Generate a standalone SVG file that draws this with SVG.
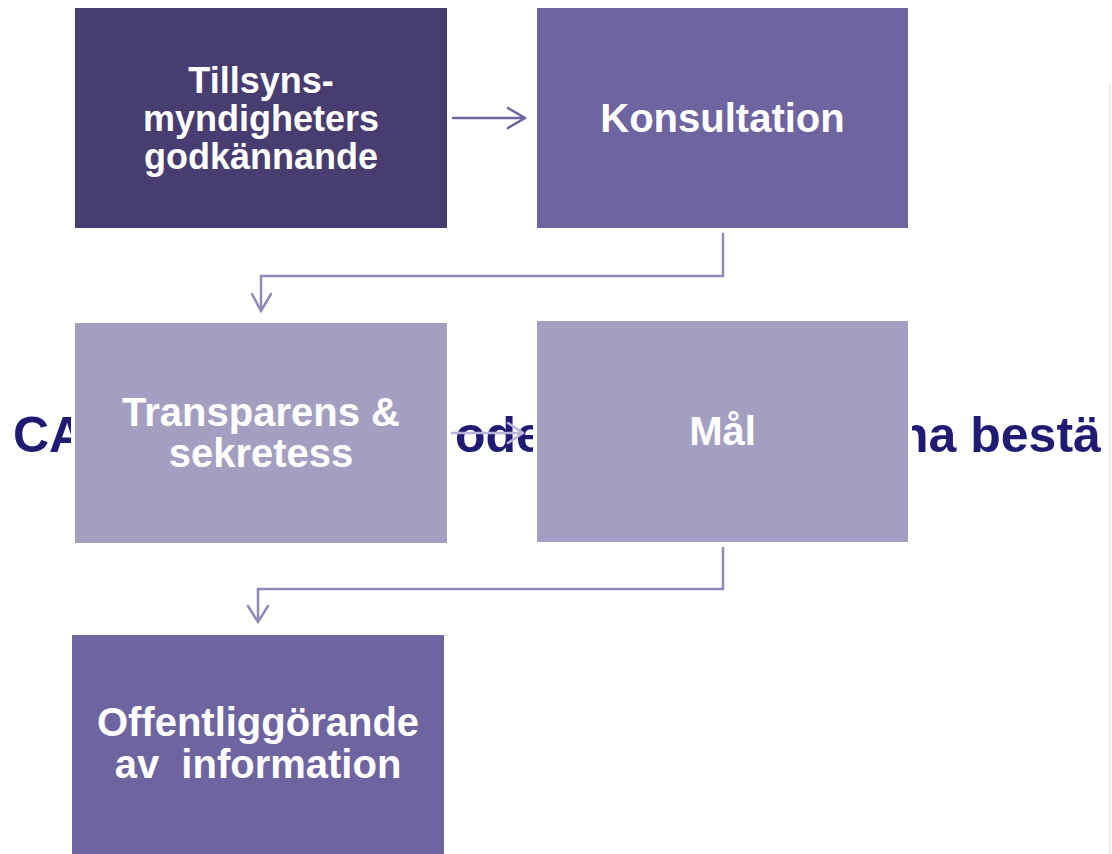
<svg xmlns="http://www.w3.org/2000/svg" width="1112" height="854" viewBox="0 0 1112 854">
<defs>
<style>
.box{stroke:#fff;stroke-width:8;paint-order:stroke}
.lbl{font-family:"Liberation Sans",Arial,sans-serif;font-weight:bold;fill:#fff;text-anchor:middle}
.title{font-family:"Liberation Sans",Arial,sans-serif;font-weight:bold;font-size:50px;fill:#1F1B72}
.conn{fill:none;stroke-width:2.5;stroke-linecap:round;stroke-linejoin:miter}
</style>
</defs>
<rect width="1112" height="854" fill="#fff"/>
<line x1="1110" y1="84" x2="1110" y2="854" stroke="#EAEAEA" stroke-width="2"/>
<g id="title">
<text class="title" x="13" y="452">CA</text>
<text class="title" x="455" y="452">ode</text>
<text class="title" x="898" y="452">na bestä</text>
</g>
<g id="node-tillsyn">
<rect class="box" x="75" y="8" width="372" height="220" fill="#483D70"/>
<text class="lbl" font-size="36" x="261" y="93">Tillsyns-</text>
<text class="lbl" font-size="36" x="261" y="131">myndigheters</text>
<text class="lbl" font-size="36" x="261" y="169">godkännande</text>
</g>
<g id="node-konsultation">
<rect class="box" x="537" y="8" width="371" height="220" fill="#6E64A0"/>
<text class="lbl" font-size="40" x="722.5" y="132">Konsultation</text>
</g>
<g id="node-transparens">
<rect class="box" x="75" y="323" width="372" height="220" fill="#A49FC0"/>
<text class="lbl" font-size="40" x="261" y="426">Transparens &amp;</text>
<text class="lbl" font-size="40" x="261" y="467">sekretess</text>
</g>
<g id="node-mal">
<rect class="box" x="537" y="321" width="371" height="221" fill="#A49FC0"/>
<text class="lbl" font-size="40" x="722.5" y="445">Mål</text>
</g>
<g id="node-offentlig">
<rect class="box" x="72" y="635" width="372" height="225" fill="#6E64A0"/>
<text class="lbl" font-size="40" x="258" y="736">Offentliggörande</text>
<text class="lbl" font-size="40" x="258" y="778" xml:space="preserve">av  information</text>
</g>
<g id="connectors">
<path class="conn" stroke="#6E64A0" d="M453 118H525M508 108L525 118L508 128"/>
<path class="conn" stroke="#918AB8" d="M723 234V276H261V311M252 294L261 311L271 294"/>
<path class="conn" stroke="#B9B4D3" d="M452 433H523M508 423L523 433L508 443"/>
<path class="conn" stroke="#918AB8" d="M723 548V589H258V622M248 606L258 622L268 606"/>
</g>
</svg>
